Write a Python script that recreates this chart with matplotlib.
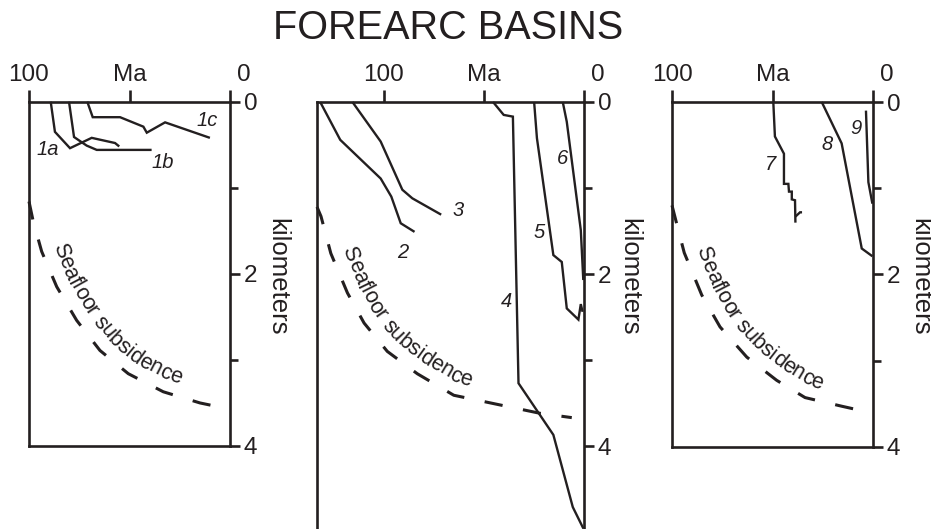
import numpy as np
import matplotlib
matplotlib.use("Agg")
import matplotlib.pyplot as plt
from matplotlib.font_manager import FontProperties
import matplotlib.transforms as mtransforms

plt.rcParams['font.family'] = ['Liberation Sans', 'DejaVu Sans']

INK = '#231f20'

# ---------------- data (Ma, depth km) ----------------
# Panel 1
p1_1a_ma = [89.2, 87.1, 79.6, 68.8, 57.2, 55.1]
p1_1a_km = [0.0, 0.35, 0.54, 0.42, 0.48, 0.52]
p1_1b_ma = [80.1, 77.6, 75.1, 71.3, 66.3, 39.0]
p1_1b_km = [0.0, 0.41, 0.45, 0.51, 0.56, 0.56]
p1_1c_ma = [71.0, 68.3, 54.7, 43.1, 41.4, 32.3, 10.0]
p1_1c_km = [0.0, 0.18, 0.18, 0.29, 0.36, 0.24, 0.42]
p1_sea_ma = [100, 98, 93.7, 86.2, 76.3, 64.7, 50.6, 33.2, 14.9, 0.5]
p1_sea_km = [1.16, 1.38, 1.74, 2.15, 2.54, 2.89, 3.16, 3.37, 3.50, 3.57]

# Panel 2
p2_2_ma = [131.7, 121.7, 101.5, 96.2, 91.5, 84.6]
p2_2_km = [0.0, 0.44, 0.89, 1.10, 1.41, 1.51]
p2_3_ma = [115.6, 101.5, 90.7, 85.7, 71.3]
p2_3_km = [0.0, 0.46, 1.02, 1.12, 1.31]
p2_4_ma = [45.4, 40.1, 35.5, 32.7, 15.3, 5.6, 0.3]
p2_4_km = [0.0, 0.15, 0.17, 3.27, 3.87, 4.71, 4.96]
p2_5_ma = [24.9, 23.5, 15.3, 11.1, 8.6, 2.8, 1.6, 0.7]
p2_5_km = [0.0, 0.42, 1.78, 1.86, 2.40, 2.53, 2.35, 2.44]
p2_6_ma = [10.6, 8.6, 1.6, 0.35]
p2_6_km = [0.0, 0.23, 1.49, 2.07]
p2_sea_ma = [133.3, 131.3, 126.4, 118.1, 109.8, 98.2, 83.2, 65.0, 21.9, 6.1]
p2_sea_km = [1.22, 1.33, 1.76, 2.22, 2.57, 2.90, 3.16, 3.41, 3.62, 3.67]

# Panel 3
p3_7_ma = [49.6, 48.8, 44.3, 44.3, 42.1, 41.8, 40.4, 40.4, 38.8, 38.6]
p3_7_km = [0.0, 0.40, 0.60, 0.95, 0.95, 1.04, 1.04, 1.13, 1.14, 1.40]
p3_7hook_ma = [38.6, 36.3, 35.3]
p3_7hook_km = [1.33, 1.28, 1.28]
p3_8_ma = [25.5, 15.6, 5.6, 0.3]
p3_8_km = [0.0, 0.48, 1.70, 1.79]
p3_9_ma = [3.5, 2.3, 0.3]
p3_9_km = [0.10, 0.93, 1.18]
p3_sea_ma = [100, 97.7, 93.9, 85.2, 76.1, 62.8, 47.9, 33.8, 15.6, 0.3]
p3_sea_km = [1.20, 1.41, 1.75, 2.24, 2.61, 2.96, 3.23, 3.43, 3.53, 3.61]

# curve labels: (text, Ma, km)
p1_labels = [('1a', 90.5, 0.56), ('1b', 33.3, 0.71), ('1c', 11.2, 0.22)]
p2_labels = [('2', 90.3, 1.75), ('3', 62.9, 1.26), ('4', 38.8, 2.32),
             ('5', 22.4, 1.52), ('6', 10.7, 0.66)]
p3_labels = [('7', 51.2, 0.73), ('8', 22.6, 0.49), ('9', 8.5, 0.31)]

top_ticks = [100, 50, 0]
top_labels = ['100', 'Ma', '']
km_major = [0, 2, 4]
km_minor = [1, 3]
title = 'FOREARC BASINS'
ylabel = 'kilometers'
sea_text = 'Seafloor subsidence'

# ---------------- figure ----------------
W, H = 931, 529
fig = plt.figure(figsize=(W / 100, H / 100), dpi=100)


def px_axes(l, r, t, b):
    return fig.add_axes([l / W, 1 - b / H, (r - l) / W, (b - t) / H])


ax1 = px_axes(29, 230, 101.7, 446)
ax2 = px_axes(317, 584, 102, 529)
ax3 = px_axes(672, 873, 102, 446.7)

SPW = 1.9
LW = 1.7


def setup(ax, xmax, ymax, bottom=True):
    ax.set_xlim(xmax, 0)
    ax.set_ylim(ymax, 0)
    ax.set_facecolor('none')
    for s in ax.spines.values():
        s.set_linewidth(SPW)
        s.set_color(INK)
    if not bottom:
        ax.spines['bottom'].set_visible(False)
    ax.xaxis.tick_top()
    ax.set_xticks(top_ticks)
    ax.set_xticklabels(top_labels)
    ax.yaxis.tick_right()
    ax.set_yticks(km_major)
    ax.set_yticklabels([str(v) for v in km_major])
    ax.set_yticks(km_minor, minor=True)
    ax.tick_params(axis='x', direction='out', length=8.5, width=SPW,
                   pad=3, labelsize=17.5, colors=INK)
    ax.tick_params(axis='y', which='major', direction='out', length=7,
                   width=SPW, pad=3, labelsize=17.5, colors=INK)
    ax.tick_params(axis='y', which='minor', direction='out', length=5.5,
                   width=SPW, colors=INK)
    ax.annotate('0', xy=(0, 1), xycoords=('data', 'axes fraction'),
                xytext=(10, 8.5 + 3), textcoords='offset points',
                ha='center', va='bottom', fontsize=17.5, color=INK,
                annotation_clip=False)


setup(ax1, 100, 4)
setup(ax2, 133.3, 4.965, bottom=False)
setup(ax3, 100, 4)


def line(ax, x, y):
    ax.plot(x, y, color=INK, lw=LW, clip_on=False,
            solid_joinstyle='miter', solid_capstyle='butt')


DASH = (0, (6.0, 6.8))


def sea(ax, x, y):
    ax.plot(x, y, color=INK, lw=2.2, ls=DASH, clip_on=False,
            dash_capstyle='butt')


line(ax1, p1_1a_ma, p1_1a_km)
line(ax1, p1_1b_ma, p1_1b_km)
line(ax1, p1_1c_ma, p1_1c_km)
sea(ax1, p1_sea_ma, p1_sea_km)

line(ax2, p2_2_ma, p2_2_km)
line(ax2, p2_3_ma, p2_3_km)
line(ax2, p2_4_ma, p2_4_km)
line(ax2, p2_5_ma, p2_5_km)
line(ax2, p2_6_ma, p2_6_km)
sea(ax2, p2_sea_ma, p2_sea_km)

line(ax3, p3_7_ma, p3_7_km)
line(ax3, p3_7hook_ma, p3_7hook_km)
line(ax3, p3_8_ma, p3_8_km)
line(ax3, p3_9_ma, p3_9_km)
sea(ax3, p3_sea_ma, p3_sea_km)

for ax, labs in ((ax1, p1_labels), (ax2, p2_labels), (ax3, p3_labels)):
    for t, x, y in labs:
        ax.text(x, y, t, style='italic', fontsize=14.5, color=INK,
                ha='center', va='center')

# ---------------- curved "Seafloor subsidence" text ----------------
renderer = fig.canvas.get_renderer()
fp = FontProperties(family=['Liberation Sans', 'DejaVu Sans'], size=15.5)


def tw(s):
    if not s:
        return 0.0
    return renderer.get_text_width_height_descent(s, fp, ismath=False)[0]


def curved_text(ax, xs, ys, text, start, offset):
    pts = ax.transData.transform(np.column_stack([xs, ys]))
    seg = np.hypot(*np.diff(pts, axis=0).T)
    s = np.concatenate([[0], np.cumsum(seg)])
    sd = np.linspace(0, s[-1], 1000)
    px = np.interp(sd, s, pts[:, 0])
    py = np.interp(sd, s, pts[:, 1])
    k = 81
    ker = np.ones(k) / k
    pxs = np.convolve(np.pad(px, k // 2, mode='edge'), ker, mode='valid')
    pys = np.convolve(np.pad(py, k // 2, mode='edge'), ker, mode='valid')
    tx = np.gradient(pxs)
    ty = np.gradient(pys)
    nrm = np.hypot(tx, ty)
    tx /= nrm
    ty /= nrm
    nx, ny = -ty, tx
    qx = px + nx * offset
    qy = py + ny * offset
    sq = np.concatenate([[0], np.cumsum(np.hypot(np.diff(qx), np.diff(qy)))])
    sp = ax.transData.transform([start])[0]
    i0 = np.argmin((qx - sp[0]) ** 2 + (qy - sp[1]) ** 2)
    c0 = sq[i0]
    cS = tw(text[0]) / 2
    for i, ch in enumerate(text):
        if ch == ' ':
            continue
        c = tw(text[:i + 1]) - tw(ch) / 2
        a = c0 + (c - cS)
        x = np.interp(a, sq, qx)
        y = np.interp(a, sq, qy)
        ang = np.degrees(np.arctan2(np.interp(a, sq, ty), np.interp(a, sq, tx)))
        fig.text(x, y, ch, transform=mtransforms.IdentityTransform(),
                 fontproperties=fp, color=INK, rotation=ang,
                 rotation_mode='anchor', ha='center', va='baseline')


curved_text(ax1, p1_sea_ma, p1_sea_km, sea_text, (83.6, 1.72), 12)
curved_text(ax2, p2_sea_ma, p2_sea_km, sea_text, (115.9, 1.76), 12)
curved_text(ax3, p3_sea_ma, p3_sea_km, sea_text, (87.1, 1.79), 12)

# ---------------- titles ----------------
fig.text(448 / W, 1 - 39 / H, title, ha='center', va='baseline',
         fontsize=28.5, color=INK)
for xc in (277, 629, 920):
    fig.text(xc / W, 1 - 277 / H, ylabel, rotation=-90, ha='center',
             va='center', fontsize=18.5, color=INK)

fig.savefig('out.png', dpi=100)
